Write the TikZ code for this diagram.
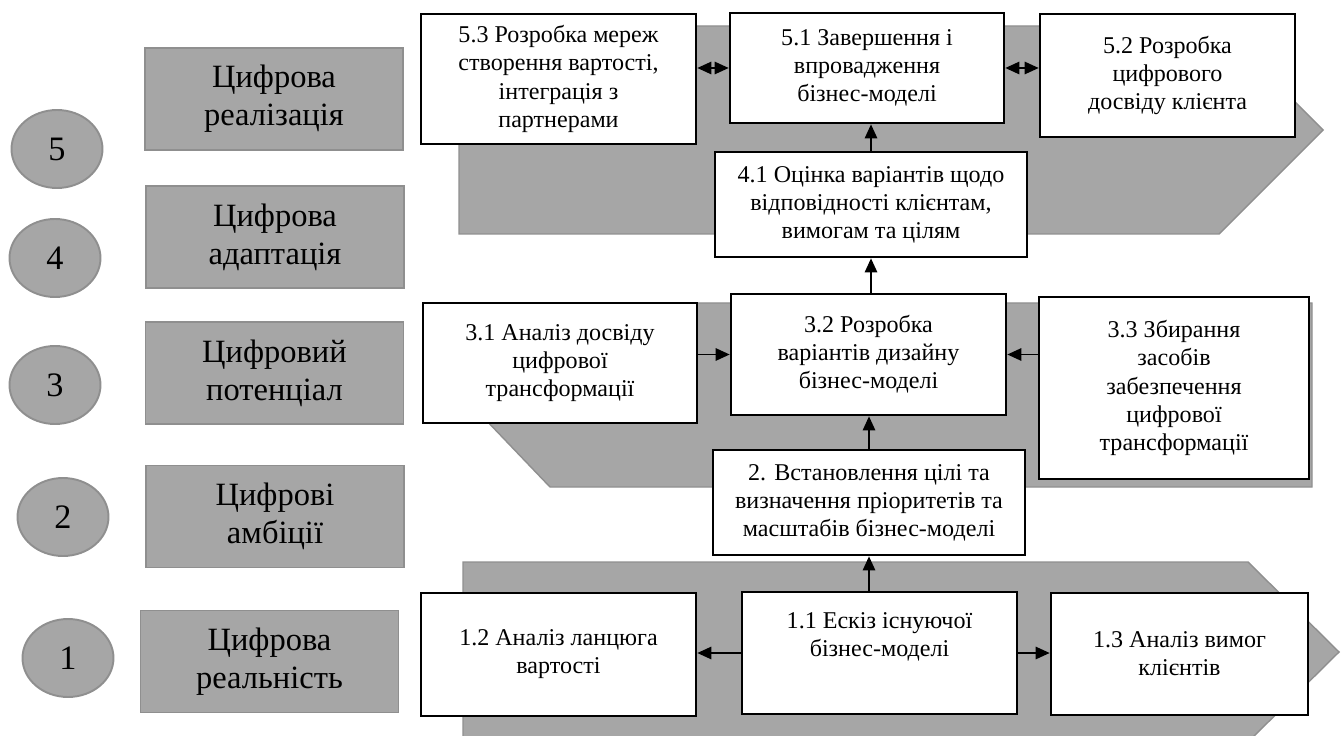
\documentclass[tikz,border=0pt]{standalone}
\usepackage{fontspec}
\setmainfont{Liberation Serif}
\usetikzlibrary{shapes.geometric,arrows.meta}
\definecolor{bandgray}{HTML}{A6A6A6}
\definecolor{edgegray}{HTML}{8F8F8F}

\begin{document}
\begin{tikzpicture}[x=0.02cm, y=-0.02cm,
  band/.style={fill=bandgray, draw=edgegray, line width=0.8pt},
  stage/.style={fill=bandgray, draw=edgegray, line width=0.9pt, minimum width=5.16cm, minimum height=2.04cm, align=center, font=\fontsize{18.5}{21.5}\selectfont},
  level/.style={ellipse, fill=bandgray, draw=edgegray, line width=1.1pt, minimum width=1.82cm, minimum height=1.56cm, inner sep=0pt, font=\fontsize{19.5}{22}\selectfont},
  task/.style={draw=black, fill=white, line width=1.5pt, align=center, inner sep=2pt, font=\fontsize{13.7}{16}\selectfont},
  link/.style={line width=1.1pt, -{Triangle[length=8pt,width=7pt]}},
  both/.style={line width=1.1pt, {Triangle[length=8pt,width=7pt]}-{Triangle[length=8pt,width=7pt]}}]
\useasboundingbox (0,0) rectangle (1341,736);

\draw[band] (459,26) -- (1219,26) -- (1323,130) -- (1219,234) -- (459,234) -- cycle;
\draw[band] (462,395) -- (550,303) -- (1312,303) -- (1312,487) -- (550,487) -- cycle;
\draw[band] (463,562) -- (1248,562) -- (1339,652) -- (1248,742) -- (463,742) -- cycle;

\node[level] (c5) at (57,149) {5};
\node[level] (c4) at (55,258) {4};
\node[level] (c3) at (55,385) {3};
\node[level] (c2) at (63,517) {2};
\node[level] (c1) at (68,658) {1};

\node[stage] (s5) at (274,99) {Цифрова\\реалізація};
\node[stage] (s4) at (275,237) {Цифрова\\адаптація};
\node[stage] (s3) at (274.5,373) {Цифровий\\потенціал};
\node[stage] (s2) at (275,516.5) {Цифрові\\амбіції};
\node[stage] (s1) at (269.5,661.5) {Цифрова\\реальність};

\node[task, minimum width=5.5cm, minimum height=2.6cm] (n53) at (558.5,79) {5.3 Розробка мереж\\створення вартості,\\інтеграція з\\партнерами};
\node[task, minimum width=5.48cm, minimum height=2.2cm] (n51) at (867,68) {5.1 Завершення і\\впровадження\\бізнес-моделі};
\node[task, minimum width=5.1cm, minimum height=2.46cm] (n52) at (1167.5,75.5) {5.2 Розробка\\цифрового\\досвіду клієнта};
\node[task, minimum width=6.24cm, minimum height=2.1cm] (n41) at (871,204.5) {4.1 Оцінка варіантів щодо\\відповідності клієнтам,\\вимогам та цілям};
\node[task, minimum width=5.48cm, minimum height=2.4cm] (n31) at (560,363) {3.1 Аналіз досвіду\\цифрової\\трансформації};
\node[task, minimum width=5.5cm, minimum height=2.42cm] (n32) at (868.5,354.5) {3.2 Розробка\\варіантів дизайну\\бізнес-моделі};
\node[task, minimum width=5.4cm, minimum height=3.64cm] (n33) at (1174,388) {3.3 Збирання\\засобів\\забезпечення\\цифрової\\трансформації};
\node[task, minimum width=6.24cm, minimum height=2.1cm] (n2) at (869,502.5) {2. Встановлення цілі та\\визначення пріоритетів та\\масштабів бізнес-моделі};
\node[task, minimum width=5.5cm, minimum height=2.46cm] (n12) at (558.5,654.5) {1.2 Аналіз ланцюга\\вартості};
\node[task, minimum width=5.5cm, minimum height=2.44cm] (n11) at (879.5,653) {1.1 Ескіз існуючої\\бізнес-моделі\\ \strut};
\node[task, minimum width=5.14cm, minimum height=2.44cm] (n13) at (1179.5,654) {1.3 Аналіз вимог\\клієнтів};

\draw[both] (n53.east |- n51.west) -- (n51.west);
\draw[both] (n51.east) -- (n52.west |- n51.east);
\draw[link] (n41.north) -- (n41.north |- n51.south);
\draw[link] (n41.south |- n32.north) -- (n41.south);
\draw[link] (n2.north) -- (n2.north |- n32.south);
\draw[link] (n2.south |- n11.north) -- (n2.south);
\draw[link] (n31.east |- n32.west) -- (n32.west);
\draw[link] (n33.west |- n32.east) -- (n32.east);
\draw[link] (n11.west) -- (n12.east |- n11.west);
\draw[link] (n11.east) -- (n13.west |- n11.east);
\end{tikzpicture}
\end{document}
